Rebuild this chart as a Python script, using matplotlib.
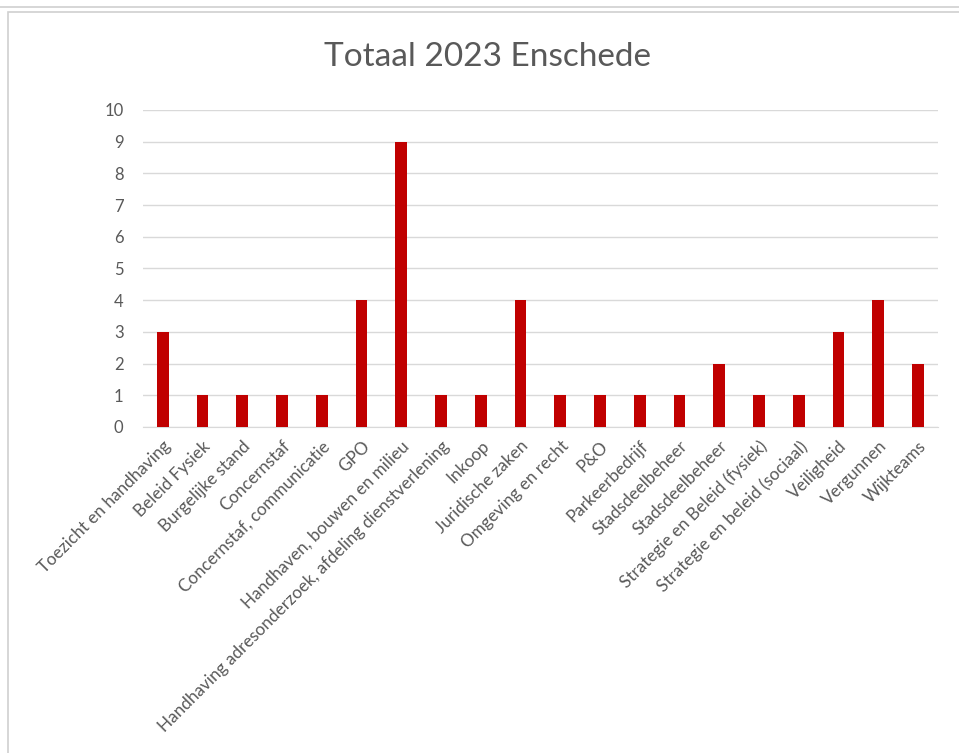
import matplotlib.pyplot as plt
from matplotlib.patches import Rectangle

categories = ['Toezicht en handhaving', 'Beleid Fysiek', 'Burgelijke stand', 'Concernstaf',
              'Concernstaf, communicatie', 'GPO', 'Handhaven, bouwen en milieu',
              'Handhaving adresonderzoek, afdeling dienstverlening', 'Inkoop', 'Juridische zaken',
              'Omgeving en recht', 'P&O', 'Parkeerbedrijf', 'Stadsdeelbeheer', 'Stadsdeelbeheer',
              'Strategie en Beleid (fysiek)', 'Strategie en beleid (sociaal)', 'Veiligheid',
              'Vergunnen', 'Wijkteams']
values = [3, 1, 1, 1, 1, 4, 9, 1, 1, 4, 1, 1, 1, 1, 2, 1, 1, 3, 4, 2]
yticks = list(range(0, 11))

plt.rcParams['font.family'] = ['Lato', 'DejaVu Sans']

fig = plt.figure(figsize=(9.59, 7.53), dpi=100)
# outer frames like the screenshot
fig.patches.append(Rectangle((-0.01, 1 - 7 / 753), 1.02, 0.02, transform=fig.transFigure,
                             fill=False, edgecolor='#d0d0d0', lw=1.2))
fig.patches.append(Rectangle((8 / 959, -0.02), 1.0, 1 - 12 / 753 + 0.02, transform=fig.transFigure,
                             fill=False, edgecolor='#d0d0d0', lw=1.2))

ax = fig.add_axes([0.149, 0.433, 0.829, 0.421])
x = range(len(categories))
ax.bar(x, values, width=0.3, color='#C00000', zorder=3)
ax.set_xlim(-0.5, len(categories) - 0.5)
ax.set_ylim(0, 10)
ax.set_yticks(yticks)
ax.set_yticklabels([str(t) for t in yticks], color='#595959', fontsize=12)
ax.set_xticks(list(x))
ax.set_xticklabels(categories, rotation=45, ha='right', rotation_mode='anchor',
                   color='#595959', fontsize=12.3)
ax.tick_params(length=0, pad=8)
ax.tick_params(axis='y', pad=14)
ax.grid(axis='y', color='#d9d9d9', lw=1, zorder=0)
for s in ['top', 'right', 'left']:
    ax.spines[s].set_visible(False)
ax.spines['bottom'].set_color('#d9d9d9')
fig.text(0.508, 1 - 57 / 753, 'Totaal 2023 Enschede', fontsize=24, color='#595959',
         ha='center', va='center')

fig.savefig('out.png', dpi=100)
